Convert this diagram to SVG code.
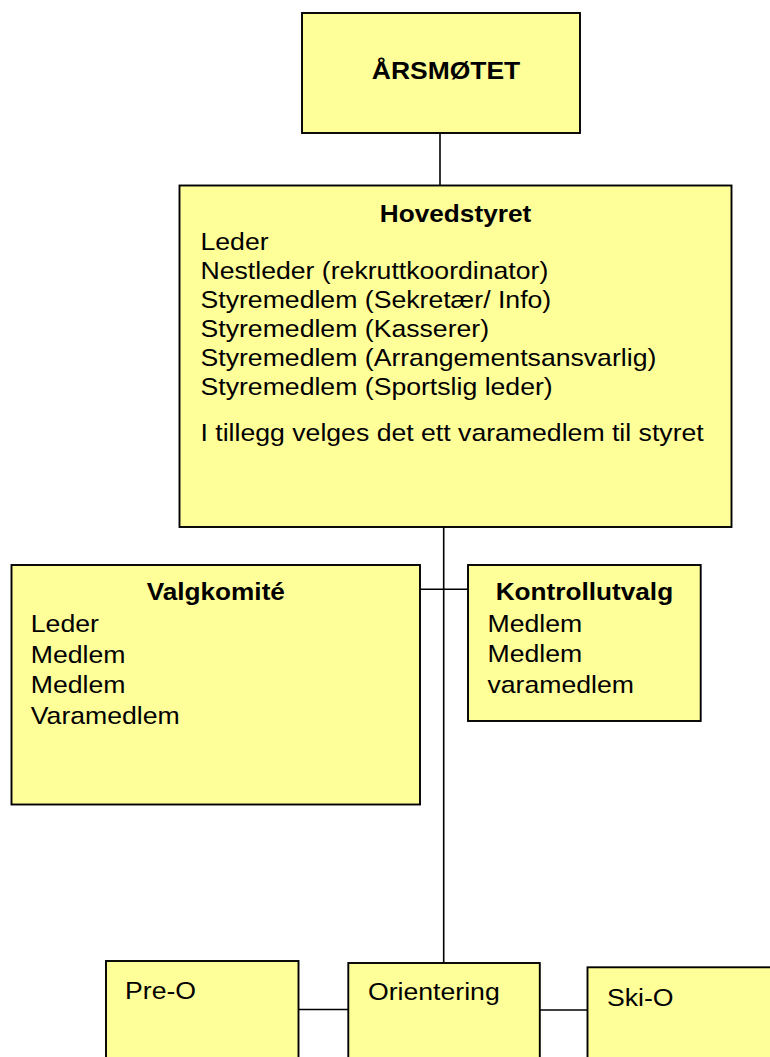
<svg xmlns="http://www.w3.org/2000/svg" width="770" height="1057" viewBox="0 0 770 1057">
<style>
.box{fill:#FFFF99;stroke:#000;stroke-width:1.9}
.con{stroke:#000;stroke-width:1.6;fill:none}
text{font-family:"Liberation Sans",Arial,sans-serif;font-size:24px;fill:#000}
.b{font-weight:bold;font-size:23.5px}
.c{text-anchor:middle}
</style>
<rect width="770" height="1057" fill="#fff"/>
<g id="connectors" class="con">
<line x1="440" y1="133" x2="440" y2="186"/>
<line x1="443.7" y1="527" x2="443.7" y2="963"/>
<line x1="420" y1="589.3" x2="468" y2="589.3"/>
<line x1="298" y1="1009.5" x2="348" y2="1009.5"/>
<line x1="540" y1="1010" x2="587.5" y2="1010"/>
</g>
<g id="arsmotet">
<rect class="box" x="302" y="13" width="278" height="120"/>
<text class="b c" style="font-size:24.5px" transform="matrix(1.08 0 0 1 446 79)">ÅRSMØTET</text>
</g>
<g id="hovedstyret">
<rect class="box" x="179.5" y="185.5" width="552" height="341.5"/>
<text class="b c" transform="matrix(1.115 0 0 1 455.5 222)">Hovedstyret</text>
<g transform="translate(200.5 0) scale(1.11 1)">
<text x="0" y="250.5">Leder</text>
<text x="0" y="279.5">Nestleder (rekruttkoordinator)</text>
<text x="0" y="308.5">Styremedlem (Sekretær/ Info)</text>
<text x="0" y="337.5">Styremedlem (Kasserer)</text>
<text x="0" y="366.5">Styremedlem (Arrangementsansvarlig)</text>
<text x="0" y="395.5">Styremedlem (Sportslig leder)</text>
<text x="0" y="441.5">I tillegg velges det ett varamedlem til styret</text>
</g>
</g>
<g id="valgkomite">
<rect class="box" x="11.5" y="565" width="408.5" height="239.5"/>
<text class="b c" transform="matrix(1.115 0 0 1 215.8 599.5)">Valgkomité</text>
<g transform="translate(30.8 0) scale(1.11 1)">
<text x="0" y="632.5">Leder</text>
<text x="0" y="663">Medlem</text>
<text x="0" y="693.5">Medlem</text>
<text x="0" y="724">Varamedlem</text>
</g>
</g>
<g id="kontrollutvalg">
<rect class="box" x="468" y="565" width="232.7" height="156"/>
<text class="b c" transform="matrix(1.115 0 0 1 584.4 599.5)">Kontrollutvalg</text>
<g transform="translate(487.5 0) scale(1.11 1)">
<text x="0" y="632.5">Medlem</text>
<text x="0" y="662.5">Medlem</text>
<text x="0" y="693">varamedlem</text>
</g>
</g>
<g id="pre-o">
<rect class="box" x="106" y="961" width="192.5" height="110"/>
<text transform="matrix(1.11 0 0 1 125 999)">Pre-O</text>
</g>
<g id="orientering">
<rect class="box" x="348.3" y="963" width="191.5" height="110"/>
<text transform="matrix(1.11 0 0 1 368 999.5)">Orientering</text>
</g>
<g id="ski-o">
<rect class="box" x="587.5" y="967.3" width="200" height="110"/>
<text transform="matrix(1.11 0 0 1 607 1006)">Ski-O</text>
</g>
</svg>
